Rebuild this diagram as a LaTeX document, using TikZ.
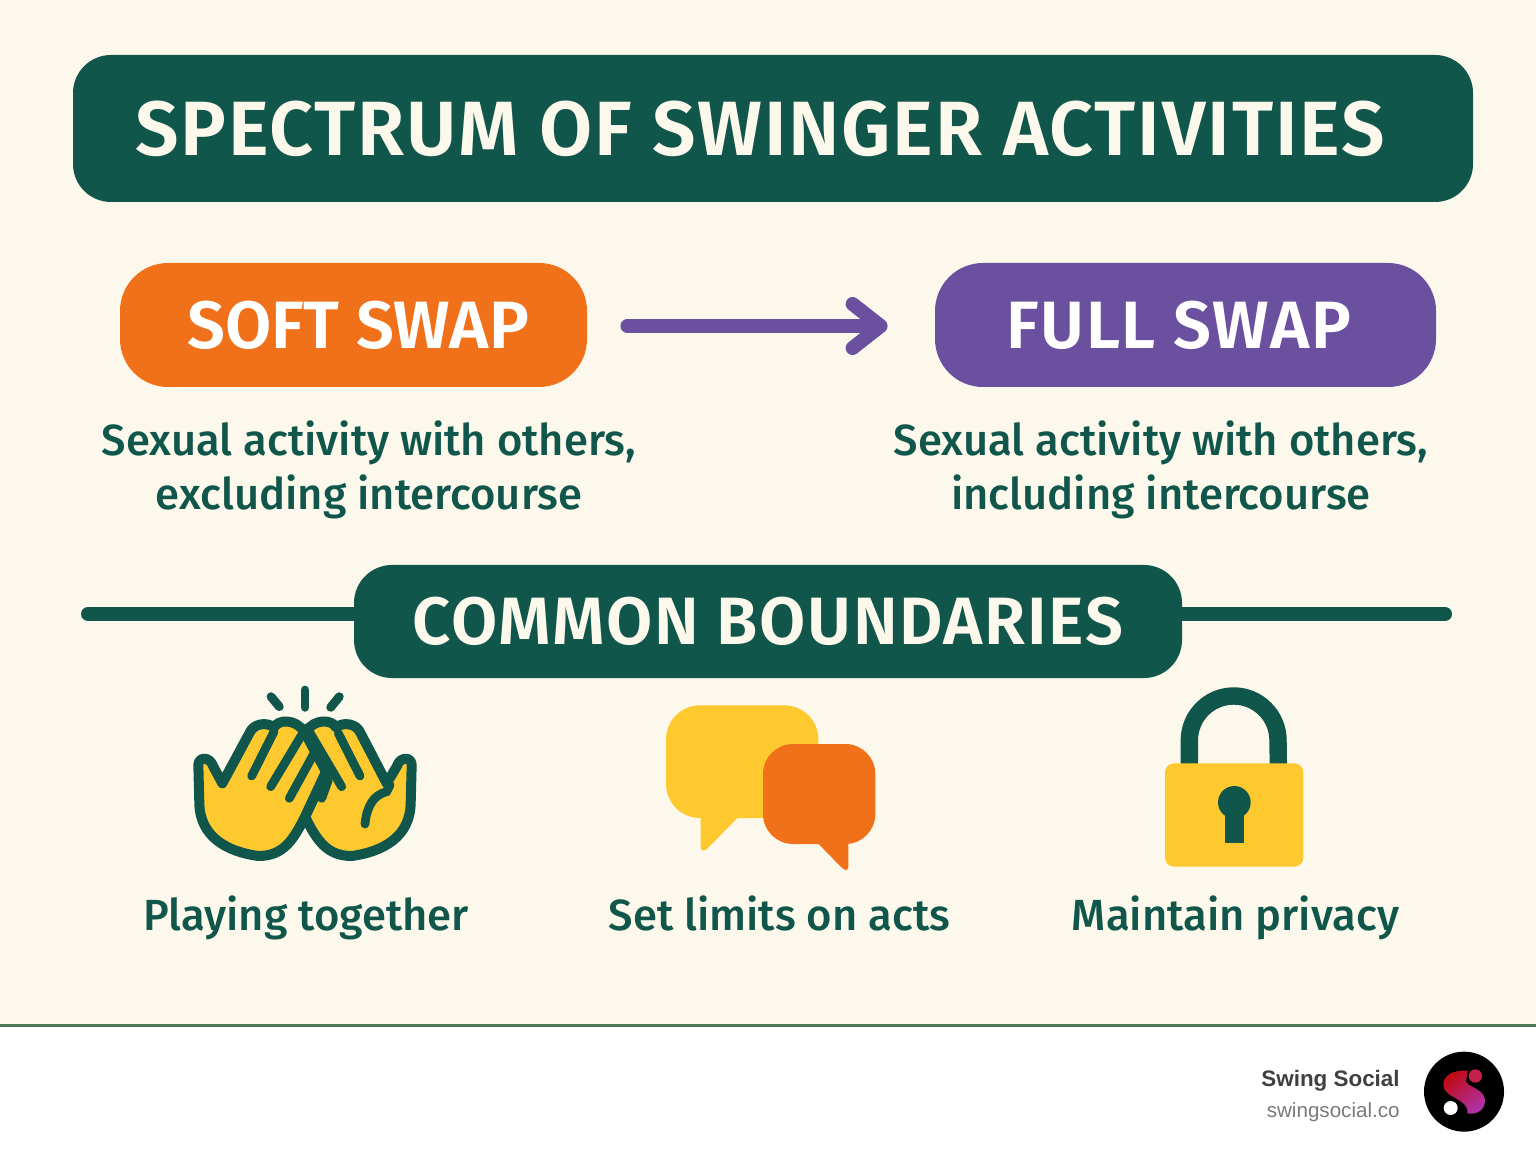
\documentclass[tikz,border=0pt]{standalone}
\usepackage{fontspec}
\setmainfont{Fira Sans}
\newfontfamily\bodyfont{Fira Sans Medium}
\newfontfamily\headfont{Fira Sans SemiBold}
\newfontfamily\wideheadfont[LetterSpace=2.4]{Fira Sans SemiBold}
\newfontfamily\logofont{Liberation Sans}
\usetikzlibrary{arrows.meta}

\definecolor{creambg}{HTML}{FDF8EC}
\definecolor{deepgreen}{HTML}{10564A}
\definecolor{swaporange}{HTML}{F0711A}
\definecolor{swappurple}{HTML}{6B50A0}
\definecolor{warmyellow}{HTML}{FDC92F}
\definecolor{footgreen}{HTML}{4A7A55}
\definecolor{logored}{HTML}{C00A14}
\definecolor{logopurple}{HTML}{B032A8}
\definecolor{logopink}{HTML}{C4204C}

\tikzset{
	bannerbox/.style={fill=deepgreen, text=creambg, rounded corners=19pt, inner sep=0pt, font=\wideheadfont\fontsize{38.5}{40}\selectfont},
	swapbox/.style={text=white, rounded corners=24pt, inner sep=0pt, minimum height=62pt, font=\headfont\fontsize{33.5}{36}\selectfont},
	desctext/.style={text=deepgreen, inner sep=0pt, align=center, font=\bodyfont\fontsize{21.8}{27}\selectfont},
	flowarrow/.style={-{Straight Barb[length=14pt, width=22pt, round]}, draw=swappurple, line width=7pt, line cap=round},
	dividerline/.style={draw=deepgreen, line width=7pt, line cap=round},
	handshape/.style={draw=deepgreen, fill=warmyellow, line width=5pt, line join=round},
	handbar/.style={draw=deepgreen, line width=4.4pt, line cap=round},
}

\begin{document}
\begin{tikzpicture}[x=0.5pt, y=-0.5pt]
\useasboundingbox (0,0) rectangle (1536,1154);
\fill[creambg] (0,0) rectangle (1536,1026);
\fill[white] (0,1026) rectangle (1536,1154);
\draw[footgreen, line width=1.5pt] (0,1025) -- (1536,1025);

\node[bannerbox, minimum width=700pt, minimum height=73.5pt] (titlebox) at (773,128.5) {SPECTRUM OF SWINGER ACTIVITIES\hspace*{13pt}};

\node[swapbox, fill=swaporange, minimum width=233.5pt] (softbox) at (353.5,325) {\hspace*{4.5pt}SOFT SWAP};
\node[swapbox, fill=swappurple, minimum width=250.5pt, font=\wideheadfont\fontsize{33.5}{36}\selectfont] (fullbox) at (1185.5,325) {FULL SWAP\hspace*{6.5pt}};
\draw[flowarrow, shorten <=20pt, shorten >=23.5pt] (softbox.east |- 0,326) -- (fullbox.west |- 0,326);

\node[desctext] (softtext) at (369,470) {Sexual activity with others,\\excluding intercourse};
\node[desctext] (fulltext) at (1161,470) {Sexual activity with others,\\including intercourse};

\node[bannerbox, minimum width=414pt, minimum height=56.5pt, font=\wideheadfont\fontsize{33.5}{36}\selectfont] (commonbox) at (768,621.5) {COMMON BOUNDARIES};
\coordinate (lineleft) at (88,614);
\coordinate (lineright) at (1445,614);
\draw[dividerline] (lineleft) -- (lineleft -| commonbox.west);
\draw[dividerline] (lineright) -- (lineright -| commonbox.east);

% hands
\begin{scope}[shift={(170,670)}, x=0.16667pt, y=-0.16667pt]
\draw[handbar] (303,80) -- (328,110);
\draw[handbar] (405,60) -- (405,112);
\draw[handbar] (508,80) -- (482,112);
\draw[handshape] (725,285) .. controls (725,260) and (690,258) .. (680,290) -- (650,340) -- (572,190) .. controls (560,160) and (520,155) .. (498,172) .. controls (485,148) and (435,145) .. (407,185) -- (470,305) -- (405,440) .. controls (440,510) and (470,558) .. (545,558) .. controls (640,545) and (720,500) .. (722,400) -- cycle;
\draw[handbar] (570,318) -- (505,190);
\draw[handbar] (515,350) -- (415,180);
\draw[handbar] (585,462) .. controls (590,410) and (610,375) .. (650,365) -- (660,345);
\draw[handbar] (475,330) -- (455,385);
\draw[handshape] (85,285) .. controls (85,260) and (120,258) .. (130,290) -- (157,340) -- (238,190) .. controls (250,160) and (290,155) .. (312,172) .. controls (325,148) and (375,145) .. (403,185) -- (468,305) -- (405,440) .. controls (370,510) and (340,558) .. (265,558) .. controls (170,545) and (90,500) .. (88,400) -- cycle;
\draw[handbar] (245,318) -- (312,185);
\draw[handbar] (302,350) -- (395,195);
\draw[handbar] (358,385) -- (435,245);
\end{scope}

% speech bubbles
\begin{scope}[shift={(640,680)}, x=0.16667pt, y=-0.16667pt]
\fill[warmyellow, rounded corners=17pt] (78,76) rectangle (535,414);
\fill[warmyellow, rounded corners=1.5pt] (182,400) -- (182,512) -- (196,512) -- (300,406) -- cycle;
\fill[swaporange, rounded corners=15pt] (369,192) rectangle (706,492);
\fill[swaporange, rounded corners=1.5pt] (530,486) -- (612,570) -- (625,570) -- (625,480) -- cycle;
\end{scope}

% padlock
\begin{scope}[shift={(1140,670)}, x=0.16667pt, y=-0.16667pt]
\draw[deepgreen, line width=8.7pt] (148,285) -- (148,211) arc[start angle=180, end angle=360, radius=133] -- (415,285);
\fill[warmyellow, rounded corners=4.5pt] (75,280) rectangle (490,590);
\fill[deepgreen] (283,397) circle[radius=49];
\fill[deepgreen] (255,420) rectangle (313,518);
\end{scope}

\node[desctext, anchor=base] (playtext) at (306,930) {Playing together};
\node[desctext, anchor=base] (limittext) at (779.5,930) {Set limits on acts};
\node[desctext, anchor=base] (privacytext) at (1235.5,930) {Maintain privacy};

% footer logo
\node[anchor=base east, inner sep=0pt, text=black!75, font=\logofont\fontsize{11.2}{14}\selectfont\bfseries] (brandname) at (1400,1086) {Swing Social};
\node[anchor=base east, inner sep=0pt, text=black!52, font=\logofont\fontsize{10.3}{12}\selectfont] (brandurl) at (1400,1117) {swingsocial.co};
\begin{scope}[shift={(1236,1020)}, x=0.16667pt, y=-0.16667pt]
\fill[black] (684,215) circle[radius=120];
\fill[white] (644,264) circle[radius=21];
\fill[logopink] (718,168) circle[radius=20];
\shade[top color=logored, bottom color=logopurple, shading angle=40] (695,152) .. controls (650,150) and (622,165) .. (622,195) .. controls (622,235) and (700,235) .. (694,280) .. controls (730,285) and (747,265) .. (747,240) .. controls (745,205) and (690,200) .. (690,183) .. controls (690,172) and (695,165) .. (695,152) -- cycle;
\end{scope}
\end{tikzpicture}
\end{document}
